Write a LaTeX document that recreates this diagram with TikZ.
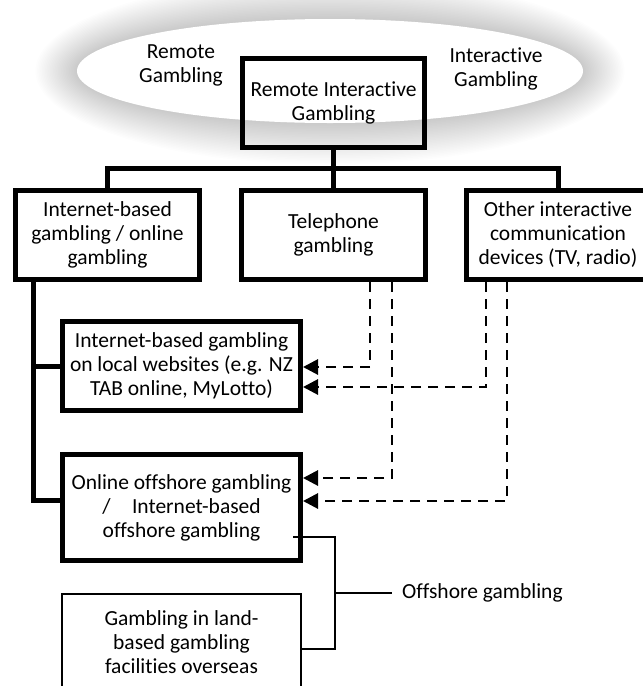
\documentclass[tikz,border=0pt]{standalone}
\usepackage{fontspec}
\setmainfont[Ligatures=NoCommon]{Carlito}
\usetikzlibrary{arrows.meta}
\begin{document}
\begin{tikzpicture}[x=1pt,y=-1pt,
  txt/.style={font=\fontsize{21.5pt}{24pt}\selectfont, align=center, inner sep=0pt},
  boxthick/.style={txt, draw, line width=5pt, minimum width=184pt, minimum height=89pt},
  dasharrow/.style={line width=2.9pt, dash pattern=on 10pt off 7pt, -{Triangle[length=15pt,width=15pt]}},
  thickline/.style={line width=5pt},
  thinline/.style={line width=1.6pt}]
\useasboundingbox (0,0) rectangle (643,686);
\clip (0,0) rectangle (643,686);
% glow around ellipse
\foreach \d in {1,...,26}{
  \fill[black,opacity=0.009] (330,71) ellipse [x radius={(253+1.6*\d)*1pt}, y radius={(52+1.6*\d)*1pt}];
}
\fill[white] (330,71) ellipse [x radius=253pt, y radius=52pt];
\node[txt] (remote) at (181,65) {Remote\\Gambling};
\node[txt] (inter) at (496,69) {Interactive\\Gambling};
% boxes
\node[boxthick, minimum width=182.5pt, minimum height=89pt] (root) at (333.5,103) {Remote Interactive\\Gambling};
\node[boxthick] (left) at (107.5,235) {Internet-based\\gambling / online\\gambling};
\node[boxthick] (tel) at (333.5,235) {Telephone\\gambling};
\node[boxthick] (other) at (558,235) {Other interactive\\communication\\devices (TV, radio)};
\node[boxthick, minimum width=238pt] (local) at (181.5,366) {Internet-based gambling\\on local websites (e.g. NZ\\TAB online, MyLotto)};
\node[boxthick, minimum width=238pt, minimum height=106pt] (off) at (181.5,507.5) {Online offshore gambling\\/\quad Internet-based\\offshore gambling};
\node[txt, draw, line width=1.6pt, minimum width=239.5pt, minimum height=97.5pt] (over) at (181.5,642.5) {Gambling in land-\\based gambling\\facilities overseas};
\node[txt, anchor=west] (lbl) at (402,593) {Offshore gambling};
% tree connectors
\coordinate (busL) at (107.5,168);
\coordinate (busR) at (558,168);
\draw[thickline] (left.north) -- (busL) -- (busR) -- (other.north);
\draw[thickline] (root.south) -- (tel.north);
\coordinate (tt) at (33,0);
\draw[thickline] (left.south -| tt) |- ([yshift=7.5pt]off.west);
\draw[thickline] (local.west -| tt) -- (local.west);
% dashed arrows
\coordinate (t1) at (370,0);
\coordinate (t2) at (392,0);
\coordinate (o1) at (486,0);
\coordinate (o2) at (507,0);
\draw[dasharrow] (tel.south -| t1) |- ([yshift=-1pt]local.east);
\draw[dasharrow] (other.south -| o1) |- ([yshift=-21pt]local.east);
\draw[dasharrow] (tel.south -| t2) |- ([yshift=29.5pt]off.east);
\draw[dasharrow] (other.south -| o2) |- ([yshift=6.5pt]off.east);
% offshore bracket
\coordinate (ob) at (293,537);
\coordinate (bx) at (335,0);
\coordinate (le) at (392,593);
\draw[thinline] (ob) -- (ob -| bx) |- ([yshift=-6.5pt]over.east);
\draw[thinline] (le -| bx) -- (le);
\end{tikzpicture}
\end{document}
